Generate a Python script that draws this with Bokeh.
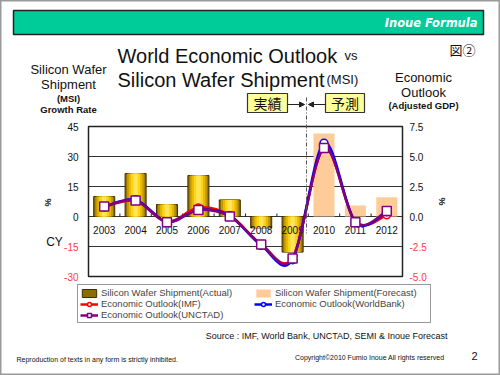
from bokeh.plotting import figure
from bokeh.models import Range1d, Label, Arrow, NormalHead, Legend, LegendItem
from bokeh.embed import file_html
from bokeh.resources import INLINE
from bokeh.core.properties import value

# ---------------- data ----------------
years = ["2003", "2004", "2005", "2006", "2007", "2008", "2009", "2010", "2011", "2012"]
actual_years = years[:7]
forecast_years = years[7:]
wafer_actual = [10.0, 21.5, 6.0, 20.5, 8.3, -5.7, -17.8]      # % growth (MSI)
wafer_forecast = [41.5, 5.5, 9.6]
gdp_imf = [0.8, 1.3, -0.45, 0.75, 0.1, -2.3, -3.45, 5.7, -0.4, 0.1]
gdp_worldbank = [0.8, 1.4, -0.45, 0.55, 0.05, -2.4, -3.6, 6.1, -0.5, 0.4]
gdp_unctad = [0.83, 1.33, -0.47, 0.55, 0.0, -2.33, -3.5, 5.7, -0.47, 0.45]
left_ticks = [45, 30, 15, 0, -15, -30]
left_tick_labels = ["45", "30", "15", "0", "-15", "-30"]
right_ticks = [7.5, 5.0, 2.5, 0.0, -2.5, -5.0]
right_tick_labels = ["7.5", "5.0", "2.5", "0.0", "-2.5", "-5.0"]

FONT = "Liberation Sans"
CJK = "Noto Sans CJK JP"

W, H = 500, 375
FL, FR, FT, FB = 88, 402, 126, 276      # plot box in page pixels
n = len(years)
ly0, ly1 = min(left_ticks), max(left_ticks)
ry0, ry1 = min(right_ticks), max(right_ticks)

def dx(px):
    return (px - FL) / (FR - FL) * n

def dy(py):
    return ly1 - (py - FT) / (FB - FT) * (ly1 - ly0)

def dyr(py):
    return ry1 - (py - FT) / (FB - FT) * (ry1 - ry0)

p = figure(width=W, height=H, output_backend="svg", toolbar_location=None,
           x_range=Range1d(dx(0), dx(W)), y_range=Range1d(dy(H), dy(0)),
           x_axis_location=None, y_axis_location=None, title=None, min_border=0)
p.extra_y_ranges = {"gdp": Range1d(dyr(H), dyr(0))}
p.background_fill_color = "white"
p.border_fill_color = "white"
p.outline_line_color = "#9A9A9A"
p.outline_line_width = 2
p.grid.visible = False

# ---------------- header ----------------
p.quad(left=dx(13), right=dx(483), top=dy(10), bottom=dy(34),
       fill_color="#00CC99", line_color="#222222", line_width=1.5)

def lab(px, py, text, size, align="center", font=FONT, style="normal", color="#111111",
        baseline="middle", angle=0):
    p.add_layout(Label(x=dx(px), y=dy(py), text=text, text_align=align,
                       text_baseline=baseline, text_font=font, text_font_size=size,
                       text_font_style=style, text_color=color, angle=angle))

lab(477, 22.5, "Inoue Formula", "11.5px", align="right", font="DejaVu Sans",
    style="bold italic", color="white")
lab(117, 55, "World Economic Outlook", "20px", align="left", baseline="alphabetic")
lab(344, 55, "vs", "13px", align="left", baseline="alphabetic")
lab(117, 79, "Silicon Wafer Shipment", "20px", align="left", baseline="alphabetic")
lab(326, 79, "(MSI)", "13px", align="left", baseline="alphabetic")
lab(462, 49, "図②", "13px", font=CJK)

lab(68, 68.5, "Silicon Wafer", "13px")
lab(68, 84, "Shipment", "13px")
lab(68, 98, "(MSI)", "9.5px", style="bold")
lab(68, 108.5, "Growth Rate", "9.5px", style="bold")
lab(423, 77, "Economic", "13px")
lab(423, 92, "Outlook", "13px")
lab(423, 105, "(Adjusted GDP)", "9.5px", style="bold")

lab(47, 202, "%", "9px", style="bold", angle=-1.5708)
lab(441, 201, "%", "9px", style="bold", angle=-1.5708)
lab(54, 241, "CY", "12px")

# ---------------- plot box, grid, tick labels ----------------
p.quad(left=0, right=n, bottom=ly0, top=ly1, fill_color="white", line_color=None)
inner = left_ticks[1:-1]
p.segment(x0=[0] * len(inner), x1=[n] * len(inner), y0=inner, y1=inner,
          line_color="#333333", line_width=1)

neg = "#FF3B3B"
p.text(x=[0] * len(left_ticks), y=left_ticks, text=left_tick_labels, x_offset=-10,
       text_align="right", text_baseline="middle", text_font=value(FONT),
       text_font_size="10px", text_color=[neg if t < 0 else "#111111" for t in left_ticks])
p.text(x=[n] * len(right_ticks), y=right_ticks, text=right_tick_labels, x_offset=7,
       y_range_name="gdp", text_align="left", text_baseline="middle",
       text_font=value(FONT), text_font_size="10px",
       text_color=[neg if t < 0 else "#111111" for t in right_ticks])

# ---------------- bars ----------------
xa = [years.index(y) + 0.5 for y in actual_years]
xf = [years.index(y) + 0.5 for y in forecast_years]
bar_f = p.vbar(x=xf, top=wafer_forecast, bottom=0, width=0.67,
               fill_color="#FFCC99", line_color=None)
layers = [(0.67, "#8C6D00"), (0.56, "#C29600"), (0.44, "#E6B800"),
          (0.30, "#FFD414"), (0.14, "#FFE55C")]
bar_a = None
for i, (w, c) in enumerate(layers):
    r = p.vbar(x=xa, top=wafer_actual, bottom=0, width=w, fill_color=c,
               line_color="#3D3000" if i == 0 else None, line_width=1)
    if i == 0:
        bar_a = r

# boundary ticks on zero line
bounds = list(range(1, n))
p.segment(x0=bounds, y0=[0] * len(bounds), x1=bounds, y1=[1.5] * len(bounds),
          line_color="#222222", line_width=1)

# category labels
xc = [i + 0.5 for i in range(n)]
p.text(x=xc, y=[0] * n, text=years, text_align="center", text_baseline="middle",
       y_offset=13, text_font=value(FONT), text_font_size="10px", text_color="#111111")

# plot box outline
p.quad(left=0, right=n, bottom=ly0, top=ly1, fill_color=None, line_color="#222222",
       line_width=1.5)

# ---------------- smoothed lines ----------------
def smooth(vals, color, width):
    xs = xc
    m = len(vals)
    X0, Y0, X1, Y1, CX0, CY0, CX1, CY1 = [], [], [], [], [], [], [], []
    for i in range(m - 1):
        a = max(i - 1, 0)
        b = min(i + 2, m - 1)
        X0.append(xs[i]); Y0.append(vals[i])
        X1.append(xs[i + 1]); Y1.append(vals[i + 1])
        CX0.append(xs[i] + (xs[i + 1] - xs[a]) / 6); CY0.append(vals[i] + (vals[i + 1] - vals[a]) / 6)
        CX1.append(xs[i + 1] - (xs[b] - xs[i]) / 6); CY1.append(vals[i + 1] - (vals[b] - vals[i]) / 6)
    return p.bezier(x0=X0, y0=Y0, x1=X1, y1=Y1, cx0=CX0, cy0=CY0, cx1=CX1, cy1=CY1,
                    y_range_name="gdp", line_color=color, line_width=width)

l_imf = smooth(gdp_imf, "#FF0000", 2.5)
m_imf = p.scatter(xc, gdp_imf, y_range_name="gdp", marker="circle", size=7,
                  fill_color="white", line_color="#FF0000", line_width=1.5)
l_wb = smooth(gdp_worldbank, "#0000FF", 2.5)
m_wb = p.scatter(xc, gdp_worldbank, y_range_name="gdp", marker="circle", size=8,
                 fill_color="white", line_color="#0000FF", line_width=1.5)
l_un = smooth(gdp_unctad, "#800080", 2.5)
m_un = p.scatter(xc, gdp_unctad, y_range_name="gdp", marker="square", size=9,
                 fill_color="white", line_color="#800080", line_width=1.5)

# ---------------- forecast split & boxes ----------------
split = dx(306)
p.add_layout(Arrow(x_start=split, y_start=dy(97), x_end=split, y_end=dy(233), end=None,
                   line_color="#555555", line_width=1, line_dash="4 2 1 2"))
for cx, w, txt in [(267, 40, "実績"), (344.5, 39, "予測")]:
    p.quad(left=dx(cx - w / 2), right=dx(cx + w / 2), top=dy(93), bottom=dy(112),
           fill_color="#FFFF99", line_color="#333333", line_width=1.2)
    lab(cx, 102.5, txt, "14px", font=CJK)
p.add_layout(Arrow(x_start=dx(287), y_start=dy(104), x_end=dx(304), y_end=dy(104),
                   line_color="#222222", line_width=1,
                   end=NormalHead(size=5, fill_color="#222222", line_color="#222222")))
p.add_layout(Arrow(x_start=dx(325), y_start=dy(104), x_end=dx(308), y_end=dy(104),
                   line_color="#222222", line_width=1,
                   end=NormalHead(size=5, fill_color="#222222", line_color="#222222")))

# ---------------- legend (column-major fill: col1 then col2) ----------------
legend = Legend(items=[
    LegendItem(label="Silicon Wafer Shipment(Actual)", renderers=[bar_a]),
    LegendItem(label="Economic Outlook(IMF)", renderers=[l_imf, m_imf]),
    LegendItem(label="Economic Outlook(UNCTAD)", renderers=[l_un, m_un]),
    LegendItem(label="Silicon Wafer Shipment(Forecast)", renderers=[bar_f]),
    LegendItem(label="Economic Outlook(WorldBank)", renderers=[l_wb, m_wb]),
], location=(77, H - 323), ncols=2)
legend.label_text_font = FONT
legend.label_text_font_size = "9.5px"
legend.label_height = 11
legend.label_width = 153
legend.glyph_height = 10
legend.glyph_width = 18
legend.label_standoff = 3
legend.spacing = 0
legend.padding = 2
legend.margin = 0
legend.border_line_color = "#333333"
legend.border_line_width = 1.5
legend.background_fill_alpha = 1
p.add_layout(legend, "center")

# ---------------- footer texts ----------------
lab(447, 335, "Source : IMF, World Bank, UNCTAD, SEMI & Inoue Forecast", "9px", align="right")
lab(16, 358.5, "Reproduction of texts in any form is strictly inhibited.", "7px", align="left")
lab(444, 357, "Copyright\u00a92010 Fumio Inoue All rights reserved", "7px", align="right")
lab(474, 355, "2", "11px")

open("out.html", "w").write(file_html(p, INLINE))
